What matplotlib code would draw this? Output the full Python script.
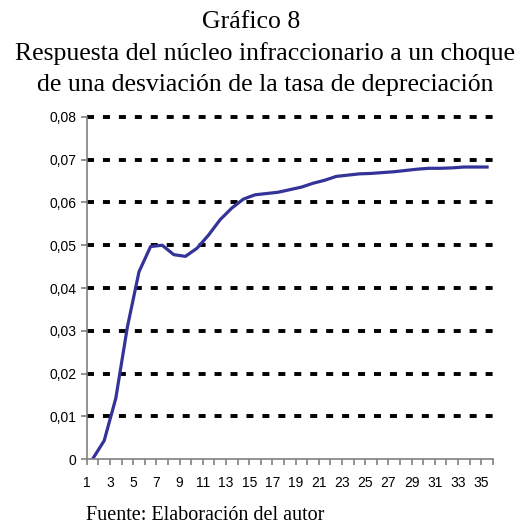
import matplotlib
matplotlib.use("Agg")
import matplotlib.pyplot as plt

# impulse response by period (1..35)
periods = list(range(1, 36))
response = [
  0.0000, 0.0043, 0.0142, 0.0309, 0.0438, 0.0497, 0.0500, 0.0478, 0.0474, 0.0493,
  0.0524, 0.0560, 0.0587, 0.0608, 0.0618, 0.0621, 0.0624, 0.0630, 0.0636, 0.0645,
  0.0652, 0.0661, 0.0664, 0.0667, 0.0668, 0.0670, 0.0672, 0.0675, 0.0678, 0.0680,
  0.0680, 0.0681, 0.0683, 0.0683, 0.0683,
]
y_ticks = [0, 0.01, 0.02, 0.03, 0.04, 0.05, 0.06, 0.07, 0.08]
y_tick_labels = ["0", "0,01", "0,02", "0,03", "0,04", "0,05", "0,06", "0,07", "0,08"]
label_periods = list(range(1, 36, 2))

fig = plt.figure(figsize=(5.26, 5.27), dpi=100)
ax = fig.add_axes([0.165, 0.129, 0.772, 0.649])

# categories sit between tick marks
xs = [p - 0.5 for p in periods]

for yv in y_ticks[1:]:
  ax.axhline(yv, color='black', linewidth=2.8, dashes=(1.8, 2.3),
             dash_capstyle='butt', zorder=1, clip_on=False)

ax.plot(xs, response, color='#333399', linewidth=2.3, zorder=3)

ax.set_xlim(0, 35)
ax.set_ylim(0, 0.08)
ax.set_xticks(range(0, 36))
ax.set_xticklabels([str(k + 1) if (k + 1) in label_periods else "" for k in range(0, 36)])
ax.set_yticks(y_ticks)
ax.set_yticklabels(y_tick_labels)

for s in ['top', 'right']:
  ax.spines[s].set_visible(False)
for s in ['left', 'bottom']:
  ax.spines[s].set_color('#808080')
  ax.spines[s].set_linewidth(1.2)
  ax.spines[s].set_zorder(4)

ax.tick_params(axis='both', colors='#808080', labelcolor='black', labelsize=10,
               length=4, width=1.2, direction='out')
ax.tick_params(axis='x', pad=8)
for t in ax.get_xticklabels() + ax.get_yticklabels():
  t.set_family('Liberation Sans')

serif = 'Liberation Serif'
fig.text(0.478, 0.958, "Gráfico 8", ha='center', va='center', fontsize=18.5, family=serif)
fig.text(0.504, 0.898, "Respuesta del núcleo infraccionario a un choque",
         ha='center', va='center', fontsize=18.5, family=serif)
fig.text(0.504, 0.839, "de una desviación de la tasa de depreciación",
         ha='center', va='center', fontsize=18.5, family=serif)
fig.text(0.163, 0.021, "Fuente: Elaboración del autor", ha='left', va='center',
         fontsize=14.5, family=serif)

fig.savefig("out.png", dpi=100)
